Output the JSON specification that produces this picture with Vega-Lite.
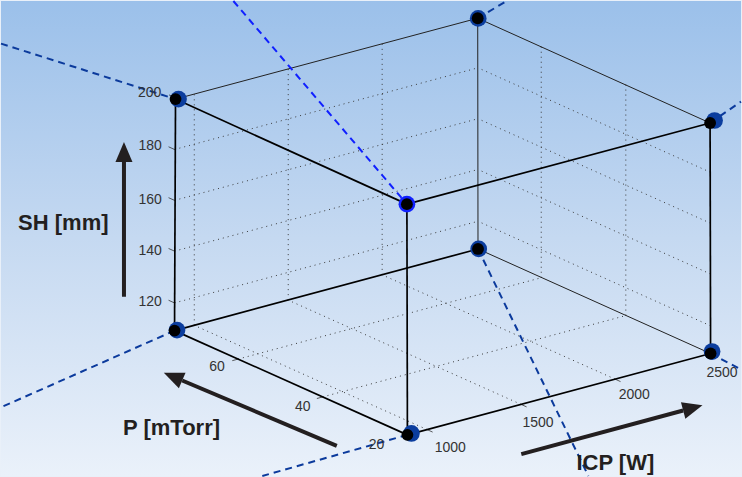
{
  "$schema": "https://vega.github.io/schema/vega-lite/v6.json",
  "width": 742,
  "height": 477,
  "autosize": {"type": "fit", "contains": "padding"},
  "padding": 0,
  "background": "#e9f0f9",
  "config": {"view": {"stroke": null}},
  "datasets": {
    "corners": [
      {"c": "A", "x": 175, "y": 98.5, "bx": 178, "by": 98.5},
      {"c": "B", "x": 478, "y": 17.3, "bx": 478.5, "by": 17.5},
      {"c": "C", "x": 711, "y": 122.5, "bx": 715.5, "by": 120},
      {"c": "D", "x": 407, "y": 204, "bx": 407, "by": 204},
      {"c": "E", "x": 174, "y": 331, "bx": 176.5, "by": 330.5},
      {"c": "F", "x": 478.3, "y": 249, "bx": 479, "by": 249},
      {"c": "G", "x": 711.5, "y": 354, "bx": 713, "by": 352},
      {"c": "H", "x": 407.5, "y": 435.7, "bx": 411.5, "by": 434.3}
    ],
    "edges": [
      {"e": "A-E", "back": false, "x": 175, "y": 98.5, "x2": 174, "y2": 331},
      {"e": "A-D", "back": false, "x": 175, "y": 98.5, "x2": 407, "y2": 204},
      {"e": "D-C", "back": false, "x": 407, "y": 204, "x2": 711, "y2": 122.5},
      {"e": "D-H", "back": false, "x": 407, "y": 204, "x2": 407.5, "y2": 435.7},
      {"e": "C-G", "back": false, "x": 711, "y": 122.5, "x2": 711.5, "y2": 354},
      {"e": "E-H", "back": false, "x": 174, "y": 331, "x2": 407.5, "y2": 435.7},
      {"e": "H-G", "back": false, "x": 407.5, "y": 435.7, "x2": 711.5, "y2": 354},
      {"e": "E-F", "back": false, "x": 174, "y": 331, "x2": 478.3, "y2": 249},
      {"e": "A-B", "back": true, "x": 175, "y": 98.5, "x2": 478, "y2": 17.3},
      {"e": "B-C", "back": true, "x": 478, "y": 17.3, "x2": 711, "y2": 122.5},
      {"e": "B-F", "back": true, "x": 478, "y": 17.3, "x2": 478.3, "y2": 249},
      {"e": "F-G", "back": true, "x": 478.3, "y": 249, "x2": 711.5, "y2": 354}
    ],
    "grid": [
      {"x": 193.8, "y": 325.7, "x2": 193.8, "y2": 93.7},
      {"x": 288, "y": 300.4, "x2": 288, "y2": 68.4},
      {"x": 382.2, "y": 275.0, "x2": 382.2, "y2": 43.0},
      {"x": 174, "y": 303.2, "x2": 478.3, "y2": 221.2},
      {"x": 174, "y": 251.2, "x2": 478.3, "y2": 169.2},
      {"x": 174, "y": 200.2, "x2": 478.3, "y2": 118.2},
      {"x": 174, "y": 149.1, "x2": 478.3, "y2": 67.1},
      {"x": 626.5, "y": 315.9, "x2": 626.5, "y2": 83.9},
      {"x": 541.7, "y": 277.9, "x2": 541.7, "y2": 45.9},
      {"x": 711.5, "y": 326.2, "x2": 478.3, "y2": 221.2},
      {"x": 711.5, "y": 274.2, "x2": 478.3, "y2": 169.2},
      {"x": 711.5, "y": 223.2, "x2": 478.3, "y2": 118.2},
      {"x": 711.5, "y": 172.1, "x2": 478.3, "y2": 67.1},
      {"x": 427.3, "y": 430.4, "x2": 193.8, "y2": 325.7},
      {"x": 521.5, "y": 405.1, "x2": 288, "y2": 300.4},
      {"x": 615.7, "y": 379.7, "x2": 382.2, "y2": 275.0},
      {"x": 322.5, "y": 397.6, "x2": 626.5, "y2": 315.9},
      {"x": 237.7, "y": 359.6, "x2": 541.7, "y2": 277.9}
    ],
    "ticks": [
      {"x": 427.3, "y": 430.4, "x2": 432.8, "y2": 432.9},
      {"x": 521.5, "y": 405.1, "x2": 527, "y2": 407.6},
      {"x": 615.7, "y": 379.7, "x2": 621.2, "y2": 382.2},
      {"x": 711.5, "y": 354, "x2": 717, "y2": 356.5},
      {"x": 407.5, "y": 435.7, "x2": 401.7, "y2": 437.3},
      {"x": 322.5, "y": 397.6, "x2": 316.7, "y2": 399.2},
      {"x": 237.7, "y": 359.6, "x2": 231.9, "y2": 361.2},
      {"x": 174, "y": 303.2, "x2": 168, "y2": 300.5},
      {"x": 174, "y": 251.2, "x2": 168, "y2": 248.5},
      {"x": 174, "y": 200.2, "x2": 168, "y2": 197.5},
      {"x": 174, "y": 149.1, "x2": 168, "y2": 146.4},
      {"x": 174.5, "y": 97, "x2": 168.5, "y2": 94.3}
    ],
    "ticklabels": [
      {"t": "200", "x": 149, "y": 96.7},
      {"t": "180", "x": 149.5, "y": 150},
      {"t": "160", "x": 149.5, "y": 204},
      {"t": "140", "x": 149.5, "y": 255},
      {"t": "120", "x": 149.5, "y": 306.7},
      {"t": "60", "x": 216.5, "y": 371.7},
      {"t": "40", "x": 302.5, "y": 411.7},
      {"t": "20", "x": 376.5, "y": 450},
      {"t": "1000", "x": 450.5, "y": 452.5},
      {"t": "1500", "x": 538.5, "y": 428},
      {"t": "2000", "x": 635, "y": 400},
      {"t": "2500", "x": 723, "y": 378}
    ],
    "titles": [
      {"t": "SH [mm]", "x": 62.5, "y": 230},
      {"t": "P [mTorr]", "x": 171, "y": 436},
      {"t": "ICP [W]", "x": 616, "y": 471}
    ],
    "arrows": [
      {"a": "SH", "x": 123.3, "y": 297, "x2": 123.3, "y2": 161.7},
      {"a": "P", "x": 336.7, "y": 446.7, "x2": 181.7, "y2": 381.1},
      {"a": "ICP", "x": 521.7, "y": 455, "x2": 684, "y2": 411.2}
    ],
    "dashed": [
      {"bright": false, "x": 0, "y": 42.8, "x2": 175, "y2": 98.5},
      {"bright": true, "x": 233, "y": 0, "x2": 407, "y2": 204},
      {"bright": false, "x": 478, "y": 17.3, "x2": 507, "y2": 0},
      {"bright": false, "x": 711, "y": 122.5, "x2": 742, "y2": 101},
      {"bright": false, "x": 174, "y": 331, "x2": 0, "y2": 408},
      {"bright": false, "x": 478.3, "y": 249, "x2": 589, "y2": 477},
      {"bright": false, "x": 407.5, "y": 435.7, "x2": 262, "y2": 477},
      {"bright": false, "x": 711.5, "y": 354, "x2": 742, "y2": 370}
    ]
  },
  "layer": [
    {
      "data": {"values": [{}]},
      "mark": {
        "type": "rect",
        "fill": {
          "gradient": "linear", "x1": 0, "y1": 0, "x2": 0, "y2": 1,
          "stops": [
            {"offset": 0, "color": "#9bc0ea"},
            {"offset": 0.5, "color": "#c5d9f1"},
            {"offset": 1, "color": "#eaf1fa"}
          ]
        }
      },
      "encoding": {
        "x": {"datum": 0, "type": "quantitative", "scale": {"domain": [0, 742], "nice": false, "zero": false}, "axis": null},
        "x2": {"datum": 742},
        "y": {"datum": 0, "type": "quantitative", "scale": {"domain": [0, 477], "nice": false, "zero": false, "reverse": true}, "axis": null},
        "y2": {"datum": 477}
      }
    },
    {
      "data": {"name": "grid"},
      "mark": {"type": "rule", "color": "#3a3a3a", "strokeWidth": 1, "strokeDash": [1, 4]},
      "encoding": {
        "x": {"field": "x", "type": "quantitative", "scale": {"domain": [0, 742], "nice": false, "zero": false}, "axis": null},
        "y": {"field": "y", "type": "quantitative", "scale": {"domain": [0, 477], "nice": false, "zero": false, "reverse": true}, "axis": null},
        "x2": {"field": "x2"},
        "y2": {"field": "y2"}
      }
    },
    {
      "data": {"name": "ticks"},
      "mark": {"type": "rule", "color": "#333333", "strokeWidth": 0.8},
      "encoding": {
        "x": {"field": "x", "type": "quantitative", "scale": {"domain": [0, 742], "nice": false, "zero": false}, "axis": null},
        "y": {"field": "y", "type": "quantitative", "scale": {"domain": [0, 477], "nice": false, "zero": false, "reverse": true}, "axis": null},
        "x2": {"field": "x2"},
        "y2": {"field": "y2"}
      }
    },
    {
      "data": {"name": "edges"},
      "transform": [{"filter": "datum.back"}],
      "mark": {"type": "rule", "color": "#222222", "strokeWidth": 1},
      "encoding": {
        "x": {"field": "x", "type": "quantitative", "scale": {"domain": [0, 742], "nice": false, "zero": false}, "axis": null},
        "y": {"field": "y", "type": "quantitative", "scale": {"domain": [0, 477], "nice": false, "zero": false, "reverse": true}, "axis": null},
        "x2": {"field": "x2"},
        "y2": {"field": "y2"}
      }
    },
    {
      "data": {"name": "edges"},
      "transform": [{"filter": "!datum.back"}],
      "mark": {"type": "rule", "color": "#000000", "strokeWidth": 1.7},
      "encoding": {
        "x": {"field": "x", "type": "quantitative", "scale": {"domain": [0, 742], "nice": false, "zero": false}, "axis": null},
        "y": {"field": "y", "type": "quantitative", "scale": {"domain": [0, 477], "nice": false, "zero": false, "reverse": true}, "axis": null},
        "x2": {"field": "x2"},
        "y2": {"field": "y2"}
      }
    },
    {
      "data": {"name": "arrows"},
      "mark": {"type": "rule", "color": "#231f20", "strokeWidth": 4},
      "encoding": {
        "x": {"field": "x", "type": "quantitative", "scale": {"domain": [0, 742], "nice": false, "zero": false}, "axis": null},
        "y": {"field": "y", "type": "quantitative", "scale": {"domain": [0, 477], "nice": false, "zero": false, "reverse": true}, "axis": null},
        "x2": {"field": "x2"},
        "y2": {"field": "y2"}
      }
    },
    {
      "data": {"name": "arrows"},
      "transform": [{"filter": "datum.a === 'SH'"}],
      "mark": {"type": "point", "shape": "M0,-2L-0.85,0L0.85,0Z", "filled": true, "opacity": 1, "size": 400, "color": "#231f20", "angle": 0},
      "encoding": {
        "x": {"field": "x2", "type": "quantitative", "scale": {"domain": [0, 742], "nice": false, "zero": false}, "axis": null},
        "y": {"field": "y2", "type": "quantitative", "scale": {"domain": [0, 477], "nice": false, "zero": false, "reverse": true}, "axis": null}
      }
    },
    {
      "data": {"name": "arrows"},
      "transform": [{"filter": "datum.a === 'P'"}],
      "mark": {"type": "point", "shape": "M0,-2L-0.85,0L0.85,0Z", "filled": true, "opacity": 1, "size": 400, "color": "#231f20", "angle": 293},
      "encoding": {
        "x": {"field": "x2", "type": "quantitative", "scale": {"domain": [0, 742], "nice": false, "zero": false}, "axis": null},
        "y": {"field": "y2", "type": "quantitative", "scale": {"domain": [0, 477], "nice": false, "zero": false, "reverse": true}, "axis": null}
      }
    },
    {
      "data": {"name": "arrows"},
      "transform": [{"filter": "datum.a === 'ICP'"}],
      "mark": {"type": "point", "shape": "M0,-2L-0.85,0L0.85,0Z", "filled": true, "opacity": 1, "size": 400, "color": "#231f20", "angle": 75},
      "encoding": {
        "x": {"field": "x2", "type": "quantitative", "scale": {"domain": [0, 742], "nice": false, "zero": false}, "axis": null},
        "y": {"field": "y2", "type": "quantitative", "scale": {"domain": [0, 477], "nice": false, "zero": false, "reverse": true}, "axis": null}
      }
    },
    {
      "data": {"name": "dashed"},
      "transform": [{"filter": "!datum.bright"}],
      "mark": {"type": "rule", "color": "#0b3a9c", "strokeWidth": 2, "strokeDash": [7, 5]},
      "encoding": {
        "x": {"field": "x", "type": "quantitative", "scale": {"domain": [0, 742], "nice": false, "zero": false}, "axis": null},
        "y": {"field": "y", "type": "quantitative", "scale": {"domain": [0, 477], "nice": false, "zero": false, "reverse": true}, "axis": null},
        "x2": {"field": "x2"},
        "y2": {"field": "y2"}
      }
    },
    {
      "data": {"name": "dashed"},
      "transform": [{"filter": "datum.bright"}],
      "mark": {"type": "rule", "color": "#1020ff", "strokeWidth": 2, "strokeDash": [7, 5]},
      "encoding": {
        "x": {"field": "x", "type": "quantitative", "scale": {"domain": [0, 742], "nice": false, "zero": false}, "axis": null},
        "y": {"field": "y", "type": "quantitative", "scale": {"domain": [0, 477], "nice": false, "zero": false, "reverse": true}, "axis": null},
        "x2": {"field": "x2"},
        "y2": {"field": "y2"}
      }
    },
    {
      "data": {"name": "corners"},
      "transform": [{"filter": "datum.c !== 'D'"}],
      "mark": {"type": "point", "shape": "circle", "filled": true, "opacity": 1, "size": 280, "color": "#0b3d9e"},
      "encoding": {
        "x": {"field": "bx", "type": "quantitative", "scale": {"domain": [0, 742], "nice": false, "zero": false}, "axis": null},
        "y": {"field": "by", "type": "quantitative", "scale": {"domain": [0, 477], "nice": false, "zero": false, "reverse": true}, "axis": null}
      }
    },
    {
      "data": {"name": "corners"},
      "transform": [{"filter": "datum.c === 'D'"}],
      "mark": {"type": "point", "shape": "circle", "filled": true, "opacity": 1, "size": 280, "color": "#1020ff"},
      "encoding": {
        "x": {"field": "bx", "type": "quantitative", "scale": {"domain": [0, 742], "nice": false, "zero": false}, "axis": null},
        "y": {"field": "by", "type": "quantitative", "scale": {"domain": [0, 477], "nice": false, "zero": false, "reverse": true}, "axis": null}
      }
    },
    {
      "data": {"name": "corners"},
      "mark": {"type": "point", "shape": "circle", "filled": true, "opacity": 1, "size": 140, "color": "#000000"},
      "encoding": {
        "x": {"field": "x", "type": "quantitative", "scale": {"domain": [0, 742], "nice": false, "zero": false}, "axis": null},
        "y": {"field": "y", "type": "quantitative", "scale": {"domain": [0, 477], "nice": false, "zero": false, "reverse": true}, "axis": null}
      }
    },
    {
      "data": {"name": "ticklabels"},
      "mark": {"type": "text", "font": "Liberation Sans", "fontSize": 14, "color": "#333333", "align": "center", "baseline": "alphabetic"},
      "encoding": {
        "x": {"field": "x", "type": "quantitative", "scale": {"domain": [0, 742], "nice": false, "zero": false}, "axis": null},
        "y": {"field": "y", "type": "quantitative", "scale": {"domain": [0, 477], "nice": false, "zero": false, "reverse": true}, "axis": null},
        "text": {"field": "t"}
      }
    },
    {
      "data": {"name": "titles"},
      "mark": {"type": "text", "font": "Liberation Sans", "fontSize": 22, "fontWeight": "bold", "color": "#231f20", "align": "center", "baseline": "alphabetic"},
      "encoding": {
        "x": {"field": "x", "type": "quantitative", "scale": {"domain": [0, 742], "nice": false, "zero": false}, "axis": null},
        "y": {"field": "y", "type": "quantitative", "scale": {"domain": [0, 477], "nice": false, "zero": false, "reverse": true}, "axis": null},
        "text": {"field": "t"}
      }
    }
  ]
}
